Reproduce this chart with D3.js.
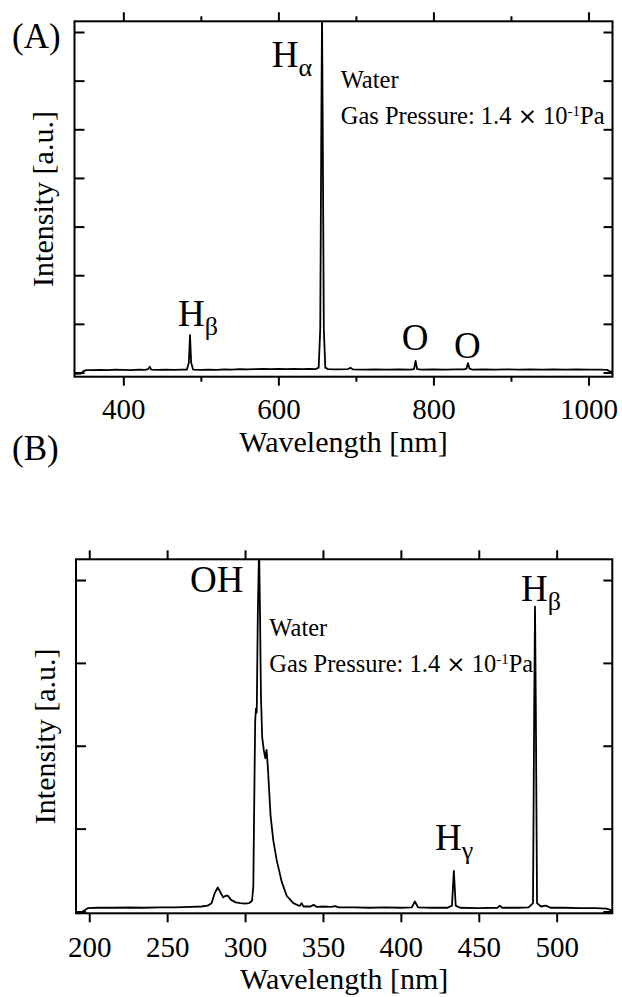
<!DOCTYPE html>
<html>
<head>
<meta charset="utf-8">
<script src="https://cdn.jsdelivr.net/npm/d3@7"></script>
<style>
  body { margin: 0; background: #fff; }
  svg text { font-family: "Liberation Serif", "Times New Roman", serif; fill: #000; }
</style>
</head>
<body>
<div id="chart"></div>
<script>
// ---- panel (A): 337 - 1031 nm survey spectrum ----
const waveA = [337, 345, 349, 352, 360, 370, 380, 390, 400, 410, 420, 428, 432, 434, 436, 445, 455, 465, 475,
  482, 484.5, 486, 487.5, 490, 500, 510, 520, 530, 540, 550, 560, 570, 580, 590, 600, 610, 620, 630, 640, 648,
  652, 654, 655.2, 656.3, 657.4, 658.6, 660.5, 664, 675, 690, 693, 696, 710, 725, 740, 755, 770, 775, 777, 779,
  785, 800, 815, 830, 840, 842.5, 844.6, 846.5, 850, 865, 880, 895, 910, 925, 940, 955, 970, 985, 1000, 1015,
  1024, 1028, 1031];
const intA = [-0.03, -0.02, 0.03, 0.05, 0.05, 0.055, 0.05, 0.06, 0.055, 0.05, 0.06, 0.055, 0.07, 0.12, 0.06, 0.055, 0.06, 0.055, 0.06,
  0.06, 0.2, 0.77, 0.2, 0.06, 0.055, 0.06, 0.055, 0.065, 0.06, 0.07, 0.065, 0.07, 0.075, 0.07, 0.075, 0.07, 0.075, 0.07, 0.075, 0.07,
  0.1, 0.9, 4.5, 7.4, 4.5, 0.9, 0.1, 0.07, 0.065, 0.07, 0.1, 0.065, 0.06, 0.065, 0.06, 0.065, 0.06, 0.07, 0.24, 0.07,
  0.06, 0.065, 0.06, 0.065, 0.065, 0.08, 0.19, 0.08, 0.06, 0.065, 0.06, 0.065, 0.06, 0.065, 0.06, 0.065, 0.06, 0.065, 0.06, 0.06,
  0.055, 0.02, 0.02];
const majorTicksA = [400, 600, 800, 1000];
const minorTicksA = [500, 700, 900];
const yTicksA = [0, 1, 2, 3, 4, 5, 6, 7];

// ---- panel (B): 191 - 536 nm UV spectrum ----
const waveB = [191.5, 195, 197.5, 199, 205, 215, 225, 235, 245, 255, 265, 272, 276, 278.5, 280.5, 282.5, 284.5, 286,
  287.5, 289, 291, 294, 297, 300, 302.5, 304.5, 305.3, 306.0, 306.5, 307.0, 307.5, 308.2, 309.0, 309.6, 310.2, 311.0,
  312.0, 313.0, 313.8, 314.6, 315.5, 316.4, 318.1, 320.3, 323.5, 326.7, 331, 335, 336.3, 337.5, 342, 344, 346, 350,
  355, 358, 360, 370, 380, 390, 400, 407, 409, 411, 420, 430, 432.8, 434, 435.2, 438, 450, 462, 463.5, 465, 475,
  482, 484.8, 485.6, 486.1, 486.6, 487.4, 490, 493, 496, 505, 515, 525, 532, 535.7];
const intB = [-0.015, -0.01, 0.02, 0.04, 0.045, 0.045, 0.048, 0.045, 0.05, 0.05, 0.055, 0.06, 0.07, 0.1, 0.22, 0.29, 0.22, 0.17,
  0.19, 0.19, 0.14, 0.11, 0.1, 0.095, 0.1, 0.13, 0.3, 1.5, 2.3, 2.45, 2.4, 3.6, 4.4, 3.6, 2.6, 2.1,
  1.95, 1.85, 1.95, 1.75, 1.45, 1.15, 0.86, 0.62, 0.36, 0.19, 0.1, 0.066, 0.1, 0.06, 0.06, 0.08, 0.055, 0.06,
  0.055, 0.065, 0.05, 0.05, 0.045, 0.05, 0.045, 0.05, 0.12, 0.05, 0.045, 0.045, 0.07, 0.49, 0.07, 0.045, 0.04, 0.045, 0.07, 0.045, 0.045,
  0.05, 0.1, 2.5, 3.68, 2.5, 0.1, 0.06, 0.07, 0.045, 0.045, 0.04, 0.04, 0.035, 0.01];
const majorTicksB = [200, 250, 300, 350, 400, 450, 500];
const yTicksB = [0, 1, 2, 3, 4];

// peak labels: main letter, subscript, anchor in data coordinates (wavelength, intensity)
const peaksA = [
  { main: "H", sub: "α", w: 591.4, v: 6.29 },
  { main: "H", sub: "β", w: 470.5, v: 0.96 },
  { main: "O", sub: "", w: 759, v: 0.46 },
  { main: "O", sub: "", w: 826.6, v: 0.29 }
];
const peaksB = [
  { main: "OH", sub: "", w: 264.7, v: 3.85 },
  { main: "H", sub: "γ", w: 421.9, v: 0.74 },
  { main: "H", sub: "β", w: 477.1, v: 3.75 }
];
const noteA = { w: 680.4, v1: 5.85, v2: 5.11 };
const noteB = { w: 315.6, v1: 3.32, v2: 2.89 };

var svg = d3.select("#chart").append("svg")
  .attr("width", 622)
  .attr("height", 997);

function drawPanel(p) {
  var x = d3.scaleLinear().domain(p.xDomain).range([p.left, p.right]);
  var y = d3.scaleLinear().domain(p.yDomain).range([p.bottom, p.top]);
  var g = svg.append("g");

  // clip the spectrum to the frame
  g.append("clipPath").attr("id", p.id + "-clip")
    .append("rect")
    .attr("x", p.left).attr("y", p.top)
    .attr("width", p.right - p.left).attr("height", p.bottom - p.top);

  var line = d3.line()
    .x(function (d) { return x(d[0]); })
    .y(function (d) { return y(d[1]); });

  g.append("path")
    .datum(d3.zip(p.wave, p.int))
    .attr("clip-path", "url(#" + p.id + "-clip)")
    .attr("fill", "none")
    .attr("stroke", "#000")
    .attr("stroke-width", 1.8)
    .attr("stroke-linejoin", "round")
    .attr("d", line);

  // x axes (outward ticks), bottom with labels
  var xb = g.append("g").attr("transform", "translate(0," + p.bottom + ")")
    .call(d3.axisBottom(x).tickValues(p.major).tickSize(9).tickFormat(d3.format("d")));
  xb.selectAll("text").attr("y", p.labelOffset).attr("dy", 0).style("font-size", "29px");
  g.append("g").attr("transform", "translate(0," + p.top + ")")
    .call(d3.axisTop(x).tickValues(p.major).tickSize(9).tickFormat(""));
  if (p.minor) {
    g.append("g").attr("transform", "translate(0," + p.bottom + ")")
      .call(d3.axisBottom(x).tickValues(p.minor).tickSize(5).tickFormat(""));
    g.append("g").attr("transform", "translate(0," + p.top + ")")
      .call(d3.axisTop(x).tickValues(p.minor).tickSize(5).tickFormat(""));
  }
  // y axes (inward ticks, no labels)
  g.append("g").attr("transform", "translate(" + p.left + ",0)")
    .call(d3.axisLeft(y).tickValues(p.yTicks).tickSize(-10).tickFormat(""));
  g.append("g").attr("transform", "translate(" + p.right + ",0)")
    .call(d3.axisRight(y).tickValues(p.yTicks).tickSize(-9).tickFormat(""));

  g.selectAll(".domain").remove();
  g.selectAll(".tick line").attr("stroke", "#000").attr("stroke-width", 2);

  g.append("rect")
    .attr("x", p.left).attr("y", p.top)
    .attr("width", p.right - p.left).attr("height", p.bottom - p.top)
    .attr("fill", "none").attr("stroke", "#000").attr("stroke-width", 2);

  // axis titles
  g.append("text")
    .attr("x", (p.left + p.right) / 2).attr("y", p.titleY)
    .attr("text-anchor", "middle")
    .style("font-size", "30px")
    .text("Wavelength [nm]");
  g.append("text")
    .attr("transform", "translate(" + p.yTitleX + "," + (p.top + p.bottom) / 2 + ") rotate(-90)")
    .attr("text-anchor", "middle")
    .style("font-size", "30px")
    .text("Intensity [a.u.]");

  // panel letter
  g.append("text")
    .attr("x", 12).attr("y", p.letterY)
    .style("font-size", "35px")
    .text(p.letter);

  // peak labels
  p.peaks.forEach(function (d) {
    var t = g.append("text")
      .attr("x", x(d.w)).attr("y", y(d.v))
      .style("font-size", "37px")
      .text(d.main);
    if (d.sub) {
      t.append("tspan").attr("dy", 9).style("font-size", "26px").text(d.sub);
    }
  });

  // sample / pressure note
  g.append("text")
    .attr("x", x(p.note.w)).attr("y", y(p.note.v1))
    .style("font-size", "24.5px")
    .text("Water");
  var gp = g.append("text")
    .attr("x", x(p.note.w)).attr("y", y(p.note.v2))
    .style("font-size", "24.5px");
  gp.append("tspan").text("Gas Pressure: 1.4 ");
  gp.append("tspan").style("font-family", "'DejaVu Sans', sans-serif").style("font-size", "23px").text("×");
  gp.append("tspan").text(" 10");
  gp.append("tspan").attr("dy", -8).style("font-size", "15px").text("-1");
  gp.append("tspan").attr("dy", 8).text("Pa");
}

drawPanel({
  id: "a", letter: "(A)", letterY: 48,
  left: 74.5, right: 612.5, top: 21.3, bottom: 376.7,
  xDomain: [337, 1031], yDomain: [-0.086, 7.22],
  wave: waveA, int: intA,
  major: majorTicksA, minor: minorTicksA, yTicks: yTicksA,
  labelOffset: 42.6, titleY: 452, yTitleX: 53,
  peaks: peaksA, note: noteA
});

drawPanel({
  id: "b", letter: "(B)", letterY: 460,
  left: 76, right: 612.3, top: 559.3, bottom: 913.3,
  xDomain: [191.5, 535.7], yDomain: [-0.022, 4.25],
  wave: waveB, int: intB,
  major: majorTicksB, minor: null, yTicks: yTicksB,
  labelOffset: 43.4, titleY: 989, yTitleX: 55,
  peaks: peaksB, note: noteB
});
</script>
</body>
</html>
